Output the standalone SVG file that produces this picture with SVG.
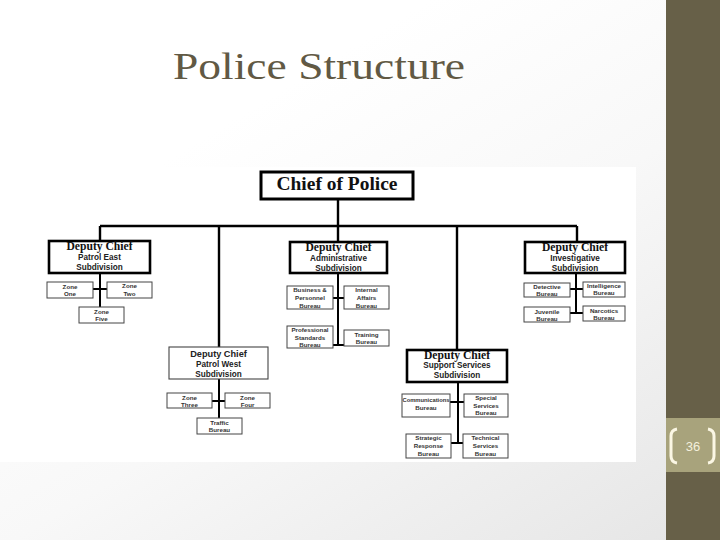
<svg xmlns="http://www.w3.org/2000/svg" width="720" height="540" viewBox="0 0 720 540">
<defs>
<linearGradient id="bg" x1="0.35" y1="0.2" x2="1" y2="1">
<stop offset="0" stop-color="#ffffff"/>
<stop offset="0.4" stop-color="#f8f8f8"/>
<stop offset="1" stop-color="#e5e5e5"/>
</linearGradient>
<style>
.main{fill:#fff;stroke:#000;stroke-width:2.6}
.thin{fill:#fff;stroke:#444;stroke-width:1.1}
.sm{fill:#fff;stroke:#444;stroke-width:1}
.dc{font-family:"Liberation Serif",serif;font-weight:bold;font-size:11.5px;fill:#111;text-anchor:middle}
.sub{font-family:"Liberation Sans",Arial,sans-serif;font-weight:bold;font-size:8.2px;fill:#222;text-anchor:middle}
.t{font-family:"Liberation Sans",Arial,sans-serif;font-weight:bold;font-size:6.2px;fill:#333;text-anchor:middle}
.ln{stroke:#000;stroke-width:2.4;fill:none}
.ls{stroke:#000;stroke-width:2;fill:none}
</style>
</defs>
<rect x="0" y="0" width="720" height="540" fill="url(#bg)"/>
<rect x="0" y="167" width="636" height="295" fill="#fff"/>
<rect x="666" y="0" width="54" height="540" fill="#676048"/>
<rect x="666" y="418" width="54" height="54" fill="#a8a37c"/>
<path d="M677 429 Q671 430 671 436 L671 456 Q671 462 677 463" stroke="#fbf7e4" stroke-width="3" fill="none"/>
<path d="M708 429 Q714 430 714 436 L714 456 Q714 462 708 463" stroke="#fbf7e4" stroke-width="3" fill="none"/>
<text x="693" y="451" font-family="Liberation Sans,Arial,sans-serif" font-size="13" fill="#f4f0dc" text-anchor="middle">36</text>
<text x="173" y="79" font-family="Liberation Serif,serif" font-size="37" fill="#615944" textLength="292" lengthAdjust="spacingAndGlyphs">Police Structure</text>

<g id="connectors">
<path class="ln" d="M338 199 V226 M100 226 H577 M100 226 V241 M219 226 V347 M338 226 V242 M457 226 V350 M577 226 V242"/>
<path class="ls" d="M100 273 V307 M93 289 H107"/>
<path class="ls" d="M338 273 V346 M333 298 H344 M333 345 H344"/>
<path class="ls" d="M576 273 V313 M570 289 H583 M570 313 H583"/>
<path class="ls" d="M219 379 V418 M212 401 H225"/>
<path class="ls" d="M458 382 V443 M450 402 H464 M451 443 H463"/>
</g>

<g id="chief">
<rect x="261" y="172" width="152" height="27" fill="#fff" stroke="#000" stroke-width="3"/>
<text x="337" y="190" font-family="Liberation Serif,serif" font-weight="bold" font-size="18" fill="#111" text-anchor="middle" textLength="121" lengthAdjust="spacingAndGlyphs">Chief of Police</text>
</g>

<g id="patrol-east">
<rect class="main" x="49" y="241" width="101" height="32"/>
<text class="dc" x="99.5" y="250" textLength="66" lengthAdjust="spacingAndGlyphs">Deputy Chief</text>
<text class="sub" x="99.5" y="260">Patrol East</text>
<text class="sub" x="99.5" y="270">Subdivision</text>
</g>
<g id="zone-one"><rect class="sm" x="47" y="282" width="46" height="16"/><text class="t" x="70" y="289">Zone</text><text class="t" x="70" y="296">One</text></g>
<g id="zone-two"><rect class="sm" x="107" y="282" width="45" height="16"/><text class="t" x="129.5" y="288">Zone</text><text class="t" x="129.5" y="295.5">Two</text></g>
<g id="zone-five"><rect class="sm" x="79" y="307" width="45" height="16"/><text class="t" x="101.5" y="313.5">Zone</text><text class="t" x="101.5" y="321">Five</text></g>

<g id="administrative">
<rect class="main" x="290" y="242" width="97" height="31"/>
<text class="dc" x="338.5" y="251" textLength="66" lengthAdjust="spacingAndGlyphs">Deputy Chief</text>
<text class="sub" x="338.5" y="261">Administrative</text>
<text class="sub" x="338.5" y="271">Subdivision</text>
</g>
<g id="business"><rect class="sm" x="287" y="286" width="46" height="23"/><text class="t" x="310" y="292">Business &amp;</text><text class="t" x="310" y="300">Personnel</text><text class="t" x="310" y="308">Bureau</text></g>
<g id="internal"><rect class="sm" x="344" y="286" width="45" height="23"/><text class="t" x="366.5" y="292">Internal</text><text class="t" x="366.5" y="300">Affairs</text><text class="t" x="366.5" y="308">Bureau</text></g>
<g id="professional"><rect class="sm" x="287" y="326" width="46" height="22"/><text class="t" x="310" y="331.5">Professional</text><text class="t" x="310" y="339.5">Standards</text><text class="t" x="310" y="347">Bureau</text></g>
<g id="training"><rect class="sm" x="344" y="330" width="45" height="16"/><text class="t" x="366.5" y="336.5">Training</text><text class="t" x="366.5" y="344">Bureau</text></g>

<g id="investigative">
<rect class="main" x="525" y="242" width="100" height="31"/>
<text class="dc" x="575" y="251" textLength="66" lengthAdjust="spacingAndGlyphs">Deputy Chief</text>
<text class="sub" x="575" y="261">Investigative</text>
<text class="sub" x="575" y="271">Subdivision</text>
</g>
<g id="detective"><rect class="sm" x="524" y="283" width="46" height="14"/><text class="t" x="547" y="289">Detective</text><text class="t" x="547" y="296">Bureau</text></g>
<g id="intelligence"><rect class="sm" x="583" y="282" width="42" height="15"/><text class="t" x="604" y="288">Intelligence</text><text class="t" x="604" y="295">Bureau</text></g>
<g id="juvenile"><rect class="sm" x="524" y="307" width="46" height="15"/><text class="t" x="547" y="313.5">Juvenile</text><text class="t" x="547" y="320.5">Bureau</text></g>
<g id="narcotics"><rect class="sm" x="583" y="306" width="42" height="15"/><text class="t" x="604" y="312.5">Narcotics</text><text class="t" x="604" y="319.5">Bureau</text></g>

<g id="patrol-west">
<rect class="thin" x="169" y="347" width="99" height="32"/>
<text class="sub" x="218.5" y="357" style="font-size:9.2px">Deputy Chief</text>
<text class="sub" x="218.5" y="367">Patrol West</text>
<text class="sub" x="218.5" y="377">Subdivision</text>
</g>
<g id="zone-three"><rect class="sm" x="167" y="393" width="45" height="15"/><text class="t" x="189.5" y="399.5">Zone</text><text class="t" x="189.5" y="406.5">Three</text></g>
<g id="zone-four"><rect class="sm" x="225" y="393" width="45" height="15"/><text class="t" x="247.5" y="399.5">Zone</text><text class="t" x="247.5" y="406.5">Four</text></g>
<g id="traffic"><rect class="sm" x="197" y="418" width="45" height="16"/><text class="t" x="219.5" y="424.5">Traffic</text><text class="t" x="219.5" y="432">Bureau</text></g>

<g id="support">
<rect class="main" x="407" y="350" width="100" height="32"/>
<text class="dc" x="457" y="358.5" textLength="66" lengthAdjust="spacingAndGlyphs">Deputy Chief</text>
<text class="sub" x="457" y="368">Support Services</text>
<text class="sub" x="457" y="378">Subdivision</text>
</g>
<g id="communications"><rect class="sm" x="402" y="394" width="48" height="23"/><text class="t" x="426" y="402" style="font-size:5.8px">Communications</text><text class="t" x="426" y="410">Bureau</text></g>
<g id="special"><rect class="sm" x="464" y="394" width="44" height="23"/><text class="t" x="486" y="399.5">Special</text><text class="t" x="486" y="407.5">Services</text><text class="t" x="486" y="415">Bureau</text></g>
<g id="strategic"><rect class="sm" x="406" y="434" width="45" height="24"/><text class="t" x="428.5" y="440">Strategic</text><text class="t" x="428.5" y="448">Response</text><text class="t" x="428.5" y="456">Bureau</text></g>
<g id="technical"><rect class="sm" x="463" y="434" width="45" height="24"/><text class="t" x="485.5" y="440">Technical</text><text class="t" x="485.5" y="448">Services</text><text class="t" x="485.5" y="456">Bureau</text></g>
</svg>
